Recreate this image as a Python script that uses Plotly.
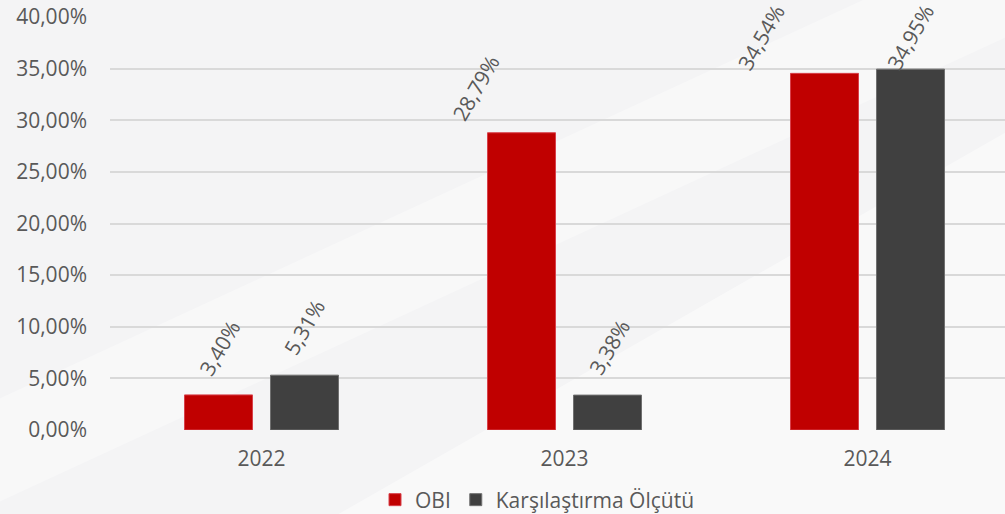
import plotly.graph_objects as go

years = ["2022", "2023", "2024"]
obi = [0.0340, 0.2879, 0.3454]
bench = [0.0531, 0.0338, 0.3495]
series_names = ["OBI", "Karşılaştırma Ölçütü"]
y_ticks = [0, 0.05, 0.10, 0.15, 0.20, 0.25, 0.30, 0.35, 0.40]

# label offsets (px) of rotated value labels relative to bar top-center: (dx, dy up)
obi_label_off = [(1, 47), (-46, 45), (-63, 36)]
bench_label_off = [(0, 48), (2, 48), (0, 32)]

RED = "#c00000"
GREY = "#404040"
TXT = "#595959"
FONT = "Open Sans"
FS = 21

W, H = 1005, 514
ML, MT, MB = 110, 17, 84

fig = go.Figure()
fig.add_trace(go.Bar(x=years, y=obi, name=series_names[0],
                     marker=dict(color=RED, line=dict(color="#d8404a", width=1))))
fig.add_trace(go.Bar(x=years, y=bench, name=series_names[1],
                     marker=dict(color=GREY, line=dict(color="#707070", width=1))))

plot_w = W - ML
cat_px = 303.0
x_hi = -0.5 + plot_w / cat_px
slot_px = 86
bar_px = 68
bargap = 1 - 2 * slot_px / cat_px

annotations = []
for i, yr in enumerate(years):
    for vals, offs, side in ((obi, obi_label_off, -1), (bench, bench_label_off, 1)):
        v = vals[i]
        dx, dy = offs[i]
        txt = f"{v*100:.2f}%".replace(".", ",")
        annotations.append(dict(
            x=i, y=v, xref="x", yref="y", text=txt, showarrow=False,
            textangle=-60, xanchor="center", yanchor="middle",
            xshift=side * slot_px / 2 + dx, yshift=dy,
            font=dict(family=FONT, size=FS, color=TXT)))

shapes = [
    dict(type="path", xref="paper", yref="paper", layer="below",
         path="M -0.15 -0.2 L 1.0 0.95 L 1.0 1.05 L 0.85 1.05 L -0.15 0.05 Z",
         fillcolor="#ffffff", opacity=0.35, line=dict(width=0)),
    dict(type="path", xref="paper", yref="paper", layer="below",
         path="M 0.25 -0.21 L 1.0 0.72 L 1.0 -0.21 Z",
         fillcolor="#ffffff", opacity=0.45, line=dict(width=0)),
]

fig.update_layout(
    width=W, height=H,
    margin=dict(l=ML, r=0, t=MT, b=MB, pad=0, autoexpand=False),
    paper_bgcolor="#f4f4f5", plot_bgcolor="rgba(0,0,0,0)",
    separators=",.",
    barmode="group", bargap=bargap, bargroupgap=1 - bar_px / slot_px,
    font=dict(family=FONT, size=FS, color=TXT),
    xaxis=dict(type="category", range=[-0.5, x_hi], showgrid=False, zeroline=False,
               showline=False, ticks="", ticklabelstandoff=14, automargin=False,
               tickfont=dict(size=FS, color=TXT)),
    yaxis=dict(range=[0, 0.40], tickvals=y_ticks, tickformat=".2%", showgrid=True,
               gridcolor="#d9d9d9", gridwidth=2, zeroline=False, showline=False,
               ticks="", ticklabelstandoff=22, automargin=False,
               tickfont=dict(size=FS, color=TXT)),
    legend=dict(orientation="h", x=(375 - ML) / plot_w, xanchor="left",
                y=(430 - 500) / 413, yanchor="middle",
                font=dict(size=FS, color=TXT), bgcolor="rgba(0,0,0,0)",
                itemwidth=30, tracegroupgap=0),
    annotations=annotations,
    shapes=shapes,
    showlegend=True,
)

fig.write_html("out.html", config={"displayModeBar": False},
               post_script="document.body.style.margin='0';document.body.style.padding='0';")
